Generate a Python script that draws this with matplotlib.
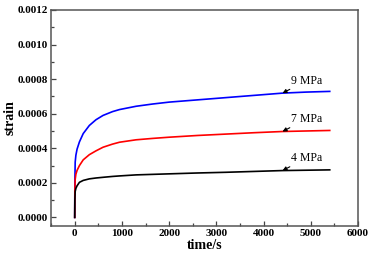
import numpy as np
import matplotlib.pyplot as plt
from matplotlib.ticker import MultipleLocator

plt.rcParams['font.family'] = ['Liberation Serif', 'DejaVu Serif']

# creep curves
time_s = [0, 3, 10, 25, 50, 100, 180, 310, 450, 600, 800, 950, 1300, 1650,
          2000, 2600, 3200, 3800, 4400, 4900, 5400]
strain_9 = [0, 0.00020, 0.00032, 0.00036, 0.000395, 0.000437, 0.000485, 0.000532,
            0.000565, 0.00059, 0.000612, 0.000624, 0.000643, 0.000656, 0.000667,
            0.00068, 0.000693, 0.000706, 0.000719, 0.000725, 0.000729]
strain_7 = [0, 0.00015, 0.00022, 0.00025, 0.000272, 0.0003, 0.000333, 0.000363,
            0.000385, 0.000406, 0.000424, 0.000435, 0.000449, 0.000457, 0.000464,
            0.000474, 0.000482, 0.00049, 0.000497, 0.0005, 0.000503]
strain_4 = [0, 0.00010, 0.000150, 0.000168, 0.000183, 0.000203, 0.000214, 0.000223,
            0.000228, 0.000232, 0.000237, 0.00024, 0.000246, 0.000249, 0.000252,
            0.000257, 0.000261, 0.000266, 0.000271, 0.000273, 0.000275]
labels = ['9 MPa', '7 MPa', '4 MPa']
# time where each label's arrow touches its curve
arrow_t = 4400

fig = plt.figure(figsize=(3.73, 2.56), dpi=100, facecolor='white')
ax = fig.add_axes([0.137, 0.117, 0.823, 0.844])

series = [(strain_9, 'blue'), (strain_7, 'red'), (strain_4, 'black')]
for (vals, col), lab in zip(series, labels):
    ax.plot(time_s, vals, color=col, lw=1.2)
    y_at = np.interp(arrow_t, time_s, vals)
    ax.annotate(lab, xy=(arrow_t, y_at), xytext=(arrow_t + 180, y_at + 0.000038),
                fontsize=8.5, ha='left', va='bottom',
                arrowprops=dict(arrowstyle='-|>', color='black', lw=0.8,
                                mutation_scale=6, shrinkA=0, shrinkB=0))

ax.set_xlim(-500, 6000)
ax.set_ylim(-0.00005, 0.0012)
ax.xaxis.set_major_locator(MultipleLocator(1000))
ax.xaxis.set_minor_locator(MultipleLocator(500))
ax.yaxis.set_major_locator(MultipleLocator(0.0002))
ax.yaxis.set_minor_locator(MultipleLocator(0.0001))
ax.yaxis.set_major_formatter(plt.FormatStrFormatter('%.4f'))

ax.tick_params(which='both', direction='in', top=False, right=False,
               color='#444444', width=0.9, labelsize=8)
ax.tick_params(which='major', length=3.5, pad=2)
ax.tick_params(which='minor', length=2)
for lbl in ax.get_xticklabels() + ax.get_yticklabels():
    lbl.set_fontweight('bold')
for sp in ax.spines.values():
    sp.set_color('#555555')
    sp.set_linewidth(1.1)

ax.set_xlabel('time/s', fontsize=10, fontweight='bold', labelpad=1)
ax.set_ylabel('strain', fontsize=10, fontweight='bold', labelpad=1)

fig.savefig('out.png', dpi=100, facecolor='white')
